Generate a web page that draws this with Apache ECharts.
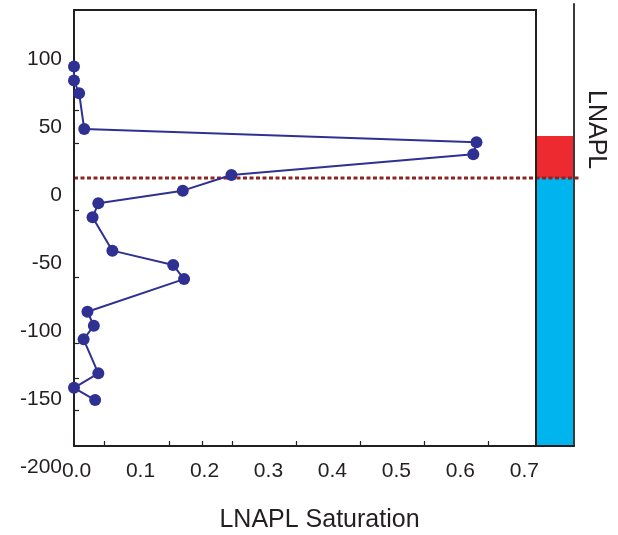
<!DOCTYPE html>
<html>
<head>
<meta charset="utf-8">
<script src="https://cdn.jsdelivr.net/npm/echarts@6/dist/echarts.min.js"></script>
<style>html,body{margin:0;padding:0;background:#fff;}#c{width:618px;height:535px;}</style>
</head>
<body>
<div id="c"></div>
<script>
// ---- data ----
const saturation = [0.000, 0.000, 0.008, 0.016, 0.629, 0.624, 0.246, 0.170, 0.038, 0.029, 0.060, 0.155, 0.172, 0.021, 0.031, 0.015, 0.038, 0.000, 0.033];
const depth      = [94.9, 84.6, 75.3, 49.0, 39.3, 30.4, 15.2, 3.7, -5.6, -15.9, -40.4, -51.0, -61.3, -85.3, -95.6, -105.6, -130.6, -141.2, -150.2];
const xTickLabels = [0.0, 0.1, 0.2, 0.3, 0.4, 0.5, 0.6, 0.7];
const yTickLabels = [100, 50, 0, -50, -100, -150, -200];
const xTickMarks = [0.048, 0.149, 0.2, 0.248, 0.348, 0.448, 0.548, 0.647];
const yTickMarks = [63.0, 38.8, -10.5, -59.8, -108.3, -134.0, -157.6];
const waterTable = 13.0;
const lnaplTop = 43.9;
const columnZones = [
  { from: -184.0, to: waterTable, color: '#00B5EE' },
  { from: waterTable, to: lnaplTop, color: '#EC2A30' }
];

// ---- chart ----
const dark = '#231F20';
const Y_MIN = -184.0, Y_MAX = 136.5, Y_MAX_COL = 141.0;
const font = 'Liberation Sans';
const chart = echarts.init(document.getElementById('c'), null, { renderer: 'canvas' });

const gridBase = { outerBoundsMode: 'none', containLabel: false };
chart.setOption({
  backgroundColor: '#fff',
  animation: false,
  textStyle: { fontFamily: font },
  grid: [
    Object.assign({ left: 74, top: 10, width: 462, height: 436, show: true, borderColor: dark, borderWidth: 2, backgroundColor: 'transparent', z: 4 }, gridBase),
    Object.assign({ left: 74, top: 59.7, width: 462, height: 408 }, gridBase),
    Object.assign({ left: 536, top: 4, width: 38, height: 442 }, gridBase),
    Object.assign({ left: 74, top: 10, width: 506, height: 436 }, gridBase)
  ],
  xAxis: [
    {
      gridIndex: 0, type: 'value', min: 0, max: 0.722,
      axisLine: { show: false, onZero: false },
      splitLine: { show: false },
      axisTick: { show: true, inside: true, length: 5, customValues: xTickMarks, lineStyle: { color: dark, width: 1.2 } },
      axisLabel: { customValues: xTickLabels, formatter: v => v.toFixed(1), fontSize: 21, color: dark, margin: 15, padding: [0, 0, 0, 5], fontFamily: font },
      name: 'LNAPL Saturation', nameLocation: 'middle', nameGap: 62,
      nameTextStyle: { fontSize: 25, color: dark, padding: [0, 0, 0, 29], fontFamily: font }
    },
    { gridIndex: 1, type: 'value', min: 0, max: 1, show: false },
    { gridIndex: 2, type: 'value', min: 0, max: 1, z: 6,
      axisLine: { show: true, onZero: false, lineStyle: { color: dark, width: 2 } },
      axisTick: { show: false }, axisLabel: { show: false }, splitLine: { show: false } },
    { gridIndex: 3, type: 'value', min: 0, max: 1, show: false }
  ],
  yAxis: [
    {
      gridIndex: 0, type: 'value', min: Y_MIN, max: Y_MAX,
      axisLine: { show: false, onZero: false }, splitLine: { show: false },
      axisTick: { show: true, inside: true, length: 5, customValues: yTickMarks, lineStyle: { color: dark, width: 1.2 } },
      axisLabel: { show: false }
    },
    {
      gridIndex: 1, type: 'value', min: -200, max: 100, interval: 50,
      axisLine: { show: false, onZero: false }, axisTick: { show: false }, splitLine: { show: false },
      axisLabel: { customValues: yTickLabels, fontSize: 21, color: dark, margin: 12, fontFamily: font }
    },
    {
      gridIndex: 2, type: 'value', position: 'right', min: Y_MIN, max: Y_MAX_COL, z: 6,
      axisLine: { show: true, onZero: false, lineStyle: { color: '#3a3a3a', width: 2 } },
      axisTick: { show: false }, axisLabel: { show: false }, splitLine: { show: false }
    },
    { gridIndex: 3, type: 'value', min: Y_MIN, max: Y_MAX, show: false }
  ],
  series: [
    {
      type: 'custom', xAxisIndex: 2, yAxisIndex: 2, z: 1,
      data: columnZones.map(z => [z.from, z.to]),
      renderItem: function (params, api) {
        const p1 = api.coord([0, api.value(1)]);
        const p2 = api.coord([1, api.value(0)]);
        return { type: 'rect', shape: { x: p1[0] + 1, y: p1[1], width: p2[0] - p1[0] - 1, height: p2[1] - p1[1] },
                 style: { fill: columnZones[params.dataIndex].color } };
      }
    },
    {
      type: 'line', xAxisIndex: 3, yAxisIndex: 3, z: 3, symbol: 'none',
      data: [[0, waterTable], [1, waterTable]],
      lineStyle: { color: '#8B2525', width: 3, type: [4, 2.5] }
    },
    {
      type: 'line', xAxisIndex: 0, yAxisIndex: 0, z: 5,
      data: saturation.map((s, i) => [s, depth[i]]),
      symbol: 'circle', symbolSize: 12,
      lineStyle: { color: '#2E3192', width: 2 },
      itemStyle: { color: '#2E3192' },
      clip: false
    }
  ],
  graphic: [
    { type: 'text', left: 583, top: 90, rotation: -Math.PI / 2, originX: 0, originY: 0,
      style: { text: 'LNAPL', fontSize: 25, fontFamily: font, fill: dark } }
  ]
});
</script>
</body>
</html>
